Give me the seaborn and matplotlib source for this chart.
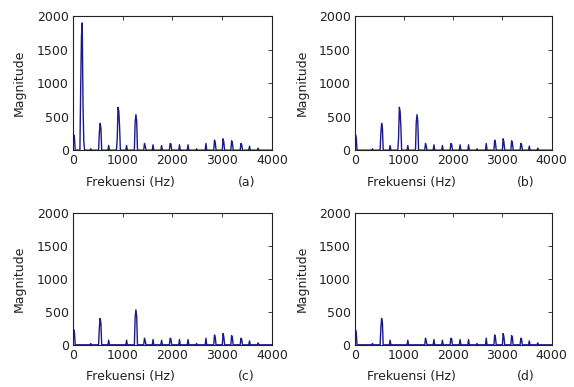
import matplotlib
matplotlib.use("Agg")
import matplotlib.pyplot as plt
import numpy as np
import pandas as pd
import seaborn as sns

# Spectrum data (FFT bins of 15.625 Hz)
bin_hz = 15.625
max_hz = 4000

# harmonic centre frequencies and the bin magnitudes around each one
harmonic_hz = [16, 190, 360, 540, 720, 905, 1080, 1260, 1435, 1610, 1785,
               1960, 2135, 2310, 2490, 2665, 2845, 3020, 3195, 3375, 3550, 3725]
harmonic_bins = [
    [230, 180],
    [930, 1700, 1900, 680, 130],
    [20],
    [260, 400, 330],
    [70],
    [180, 640, 580, 350],
    [70],
    [420, 530, 430],
    [100, 60],
    [80],
    [70],
    [100, 90],
    [80],
    [80],
    [20],
    [100],
    [150, 110],
    [170, 120],
    [140, 110],
    [100, 80],
    [60],
    [30],
]

# harmonics filtered out in each panel
removed_a = []
removed_b = [190]
removed_c = [190, 905]
removed_d = [190, 905, 1260]

panel_tags = ["(a)", "(b)", "(c)", "(d)"]
panel_removed = [removed_a, removed_b, removed_c, removed_d]


def build_spectrum(removed):
    freqs = np.arange(0, max_hz + bin_hz, bin_hz)
    mags = np.zeros(len(freqs))
    for f, bins in zip(harmonic_hz, harmonic_bins):
        if f in removed:
            continue
        start = int(round(f / bin_hz)) - int(np.argmax(bins))
        for i, v in enumerate(bins):
            j = start + i
            if 0 <= j < len(mags):
                mags[j] = v
    return pd.DataFrame({"freq": freqs, "mag": mags})


sns.set_style("white")
plt.rcParams["font.family"] = ["DejaVu Sans"]
plt.rcParams.update({
    "xtick.direction": "in",
    "ytick.direction": "in",
    "xtick.top": True,
    "ytick.right": True,
    "xtick.major.size": 3,
    "ytick.major.size": 3,
    "xtick.major.width": 0.6,
    "ytick.major.width": 0.6,
    "axes.linewidth": 0.8,
    "axes.edgecolor": "#222222",
    "text.color": "#222222",
    "xtick.color": "#222222",
    "ytick.color": "#222222",
    "axes.labelcolor": "#222222",
})

fig = plt.figure(figsize=(5.74, 3.87), dpi=100)
positions = [
    [0.127, 0.612, 0.347, 0.346],
    [0.618, 0.612, 0.343, 0.346],
    [0.127, 0.109, 0.347, 0.341],
    [0.618, 0.109, 0.343, 0.341],
]

for pos, tag, removed in zip(positions, panel_tags, panel_removed):
    ax = fig.add_axes(pos)
    spec = build_spectrum(removed)
    sns.lineplot(data=spec, x="freq", y="mag", ax=ax, color="#1a1a8c",
                 linewidth=1.0, estimator=None)
    ax.set_xlim(0, 4000)
    ax.set_ylim(0, 2000)
    ax.set_xticks([0, 1000, 2000, 3000, 4000])
    ax.set_yticks([0, 500, 1000, 1500, 2000])
    ax.tick_params(labelsize=9, pad=3)
    ax.set_ylabel("Magnitude", fontsize=9)
    ax.yaxis.set_label_coords(-0.236, 0.5, transform=ax.transAxes)
    ax.set_xlabel("Frekuensi (Hz)", fontsize=9)
    ax.xaxis.set_label_coords(0.29, -0.19, transform=ax.transAxes)
    ax.text(0.87, -0.19, tag, transform=ax.transAxes, fontsize=9,
            ha="center", va="top")
    for s in ax.spines.values():
        s.set_visible(True)

fig.savefig("out.png", dpi=100)
